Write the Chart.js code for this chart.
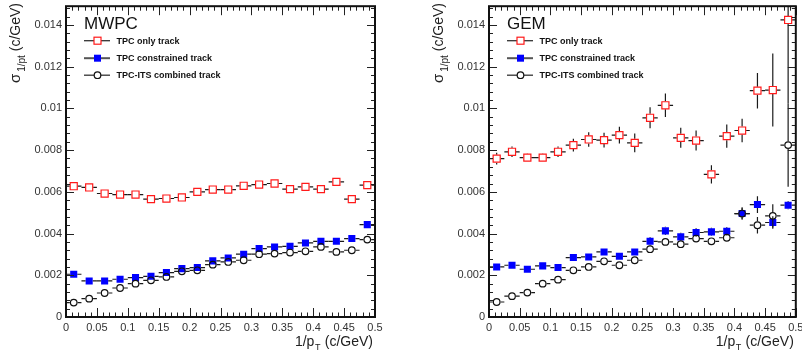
<!DOCTYPE html>
<html>
<head>
<meta charset="utf-8">
<script src="https://cdn.jsdelivr.net/npm/chart.js@4"></script>
<style>
  html, body { margin: 0; padding: 0; background: #fff; overflow: hidden; }
  #wrap { position: relative; width: 802px; height: 360px; }
  canvas { position: absolute; top: 0; display: block; }
</style>
</head>
<body>
<div id="wrap">
  <canvas id="mwpc" width="401" height="360" style="left:0"></canvas>
  <canvas id="gem" width="401" height="360" style="left:401px"></canvas>
</div>
<script>
// bins in 1/pT (c/GeV), 0.025 wide
const binCenters = [0.0125, 0.0375, 0.0625, 0.0875, 0.1125, 0.1375, 0.1625, 0.1875, 0.2125, 0.2375,
                    0.2625, 0.2875, 0.3125, 0.3375, 0.3625, 0.3875, 0.4125, 0.4375, 0.4625, 0.4875];
const binHalfWidth = 0.0125;

const xTickValues = [0, 0.05, 0.1, 0.15, 0.2, 0.25, 0.3, 0.35, 0.4, 0.45, 0.5];
const xTickLabels = ['0', '0.05', '0.1', '0.15', '0.2', '0.25', '0.3', '0.35', '0.4', '0.45', '0.5'];
const yTickValues = [0, 0.002, 0.004, 0.006, 0.008, 0.01, 0.012, 0.014];
const yTickLabels = ['0', '0.002', '0.004', '0.006', '0.008', '0.01', '0.012', '0.014'];

const seriesNames = ['TPC only track', 'TPC constrained track', 'TPC-ITS combined track'];

// MWPC panel
const mwpcTpcOnly = [0.00627, 0.00621, 0.00592, 0.00587, 0.00587, 0.00565, 0.00568, 0.00573, 0.0060, 0.00611,
                     0.00611, 0.00629, 0.00635, 0.0064, 0.00613, 0.00624, 0.00613, 0.00648, 0.00565, 0.00632];
const mwpcTpcOnlyErr = [0.0001, 0.0001, 0.0001, 0.0001, 0.0001, 0.0001, 0.0001, 0.0001, 0.0001, 0.0001,
                        0.0001, 0.0001, 0.0001, 0.0001, 0.0001, 0.0001, 0.0001, 0.0002, 0.00015, 0.0002];
const mwpcConstrained = [0.00205, 0.00173, 0.00173, 0.00181, 0.00189, 0.00195, 0.00213, 0.00232, 0.00237, 0.00269,
                         0.00283, 0.00301, 0.00328, 0.00336, 0.00339, 0.00355, 0.00363, 0.00363, 0.00376, 0.00443];
const mwpcConstrainedErr = [0.00008, 0.00008, 0.00008, 0.00008, 0.00008, 0.00008, 0.00008, 0.00008, 0.00008, 0.00008,
                            0.00008, 0.00008, 0.00008, 0.00008, 0.00008, 0.00008, 0.00008, 0.0001, 0.0001, 0.00012];
const mwpcCombined = [0.00069, 0.00088, 0.00115, 0.00139, 0.0016, 0.00176, 0.00192, 0.00219, 0.00224, 0.00251,
                      0.00264, 0.00272, 0.00301, 0.00304, 0.00309, 0.00315, 0.00336, 0.00312, 0.0032, 0.00371];
const mwpcCombinedErr = [0.00008, 0.00008, 0.00008, 0.00008, 0.00008, 0.00008, 0.00008, 0.00008, 0.00008, 0.00008,
                         0.00008, 0.00008, 0.00008, 0.00008, 0.00008, 0.00008, 0.0001, 0.0001, 0.0001, 0.00012];

// GEM panel
const gemTpcOnly = [0.00759, 0.00792, 0.00764, 0.00764, 0.00792, 0.00824, 0.00851, 0.00848, 0.00872, 0.00835,
                    0.00955, 0.01015, 0.00859, 0.00846, 0.00684, 0.00867, 0.00894, 0.01085, 0.01088, 0.01424];
const gemTpcOnlyErr = [0.00028, 0.00025, 0.0002, 0.0002, 0.00025, 0.0003, 0.00035, 0.00035, 0.0004, 0.00045,
                       0.0005, 0.00056, 0.00048, 0.00048, 0.00044, 0.00056, 0.00056, 0.00085, 0.00175, 0.004];
const gemConstrained = [0.0024, 0.00248, 0.00229, 0.00245, 0.00237, 0.00285, 0.00288, 0.00312, 0.00291, 0.00312,
                        0.00363, 0.00413, 0.00384, 0.00405, 0.00408, 0.00411, 0.00496, 0.00539, 0.00453, 0.00536];
const gemConstrainedErr = [0.00012, 0.00012, 0.00012, 0.00012, 0.00012, 0.00015, 0.00015, 0.00015, 0.00015, 0.00015,
                           0.0002, 0.0002, 0.0002, 0.0002, 0.0002, 0.0002, 0.00025, 0.0004, 0.0003, 0.0002];
const gemCombined = [0.00072, 0.001, 0.00117, 0.0016, 0.00179, 0.00224, 0.0024, 0.00267, 0.00248, 0.00272,
                     0.00325, 0.0036, 0.00349, 0.00376, 0.00363, 0.0038, 0.00496, 0.0044, 0.00485, 0.00824];
const gemCombinedErr = [0.0001, 0.0001, 0.0001, 0.0001, 0.0001, 0.00012, 0.00012, 0.00012, 0.00012, 0.00015,
                        0.00015, 0.00015, 0.00015, 0.00015, 0.00015, 0.00018, 0.0003, 0.0004, 0.00056, 0.002];

const FONT = '"Liberation Sans", Arial, Helvetica, sans-serif';
const RED = '#ff1a1a', BLUE = '#0000ff', BLACK = '#111';

// error bars drawn per dataset, right before its markers, with a gap at the marker (ROOT style)
const errorBars = {
  id: 'errorBars',
  beforeDatasetDraw(chart, args) {
    const { ctx, chartArea: a, scales: { x, y } } = chart;
    const ds = chart.data.datasets[args.index];
    const gap = ds.markerGap;
    ctx.save();
    ctx.beginPath();
    ctx.rect(a.left, a.top, a.width, a.height);
    ctx.clip();
    ctx.strokeStyle = '#1a1a1a';
    ctx.lineWidth = 1.2;
    ds.data.forEach((p, i) => {
      const px = x.getPixelForValue(p.x);
      const py = y.getPixelForValue(p.y);
      const lo = y.getPixelForValue(p.y - ds.yErr[i]);
      const hi = y.getPixelForValue(p.y + ds.yErr[i]);
      ctx.beginPath();
      ctx.moveTo(x.getPixelForValue(p.x - binHalfWidth), py);
      ctx.lineTo(px - gap, py);
      ctx.moveTo(px + gap, py);
      ctx.lineTo(x.getPixelForValue(p.x + binHalfWidth), py);
      if (lo > py + gap) { ctx.moveTo(px, py + gap); ctx.lineTo(px, lo); }
      if (hi < py - gap) { ctx.moveTo(px, py - gap); ctx.lineTo(px, hi); }
      ctx.stroke();
    });
    ctx.restore();
  }
};

// ROOT-like frame with inward ticks on all four sides
const frame = {
  id: 'frame',
  afterDatasetsDraw(chart) {
    const { ctx, chartArea: a, scales: { x, y } } = chart;
    ctx.save();
    ctx.strokeStyle = '#222';
    ctx.lineWidth = 1;
    ctx.beginPath();
    for (let k = 0; k <= 50; k++) {
      const px = Math.round(x.getPixelForValue(k * 0.01)) + 0.5;
      const len = k % 5 === 0 ? 9 : 4.5;
      ctx.moveTo(px, a.bottom); ctx.lineTo(px, a.bottom - len);
      ctx.moveTo(px, a.top); ctx.lineTo(px, a.top + len);
    }
    for (let k = 0; k <= 37; k++) {
      const v = k * 0.0004;
      if (v > y.max) break;
      const py = Math.round(y.getPixelForValue(v)) + 0.5;
      const len = k % 5 === 0 ? 8 : 4;
      ctx.moveTo(a.left, py); ctx.lineTo(a.left + len, py);
      ctx.moveTo(a.right, py); ctx.lineTo(a.right - len, py);
    }
    ctx.stroke();
    ctx.strokeStyle = '#111';
    ctx.lineWidth = 2;
    ctx.strokeRect(a.left, a.top, a.right - a.left, a.bottom - a.top);
    ctx.restore();
  }
};

function drawMarker(ctx, style, x, y) {
  ctx.lineWidth = 1.2;
  if (style === 'open-square') {
    ctx.fillStyle = '#fff'; ctx.strokeStyle = RED;
    ctx.fillRect(x - 3.5, y - 3.5, 7, 7); ctx.strokeRect(x - 3.5, y - 3.5, 7, 7);
  } else if (style === 'full-square') {
    ctx.fillStyle = BLUE; ctx.fillRect(x - 3.5, y - 3.5, 7, 7);
  } else {
    ctx.fillStyle = '#fff'; ctx.strokeStyle = BLACK;
    ctx.beginPath(); ctx.arc(x, y, 3.3, 0, Math.PI * 2); ctx.fill(); ctx.stroke();
  }
}

// legend, panel label and axis titles
const annotations = {
  id: 'annotations',
  afterDraw(chart, args, opts) {
    const { ctx, chartArea: a } = chart;
    ctx.save();
    ctx.fillStyle = '#111';
    ctx.textBaseline = 'alphabetic';
    ctx.textAlign = 'left';
    ctx.font = '17px ' + FONT;
    ctx.fillText(opts.label, a.left + 18, a.top + 23);

    const styles = ['open-square', 'full-square', 'open-circle'];
    const rows = [a.top + 34.5, a.top + 52, a.top + 69];
    seriesNames.forEach((name, i) => {
      ctx.strokeStyle = i === 1 ? '#555' : '#333';
      ctx.lineWidth = i === 1 ? 2 : 1.3;
      ctx.beginPath();
      ctx.moveTo(a.left + 18, rows[i]); ctx.lineTo(a.left + 44, rows[i]);
      ctx.stroke();
      drawMarker(ctx, styles[i], a.left + 31.5, rows[i]);
      ctx.fillStyle = '#111';
      ctx.font = 'bold 9px ' + FONT;
      ctx.textBaseline = 'middle';
      ctx.fillText(name, a.left + 50.5, rows[i] + 0.5);
    });

    // x title: 1/pT (c/GeV), right aligned
    ctx.textBaseline = 'alphabetic';
    ctx.fillStyle = '#222';
    ctx.font = '14px ' + FONT;
    const xa = '1/p', xc = ' (c/GeV)';
    const wA = ctx.measureText(xa).width, wC = ctx.measureText(xc).width;
    ctx.font = '9px ' + FONT;
    const wB = ctx.measureText('T').width + 1;
    let xs = a.right - 2 - (wA + wB + wC);
    const base = 346;
    ctx.font = '14px ' + FONT; ctx.fillText(xa, xs, base);
    ctx.font = '9px ' + FONT; ctx.fillText('T', xs + wA + 0.5, base + 4);
    ctx.font = '14px ' + FONT; ctx.fillText(xc, xs + wA + wB, base);

    // y title: sigma_1/pt (c/GeV), rotated, ending at the top
    ctx.translate(a.left - 46, 0);
    ctx.rotate(-Math.PI / 2);
    ctx.font = '15px ' + FONT;
    const wS = ctx.measureText('\u03c3').width;
    ctx.font = '10px ' + FONT;
    const wSub = ctx.measureText('1/pt').width;
    ctx.font = '14px ' + FONT;
    const wT = ctx.measureText(' (c/GeV)').width;
    let s = -(3 + wS + 2 + wSub + wT);
    ctx.font = '15px ' + FONT; ctx.fillText('\u03c3', s, 0);
    ctx.font = '10px ' + FONT; ctx.fillText('1/pt', s + wS + 2, 5);
    ctx.font = '14px ' + FONT; ctx.fillText(' (c/GeV)', s + wS + 2 + wSub, 0);
    ctx.restore();
  }
};

function points(values) {
  return binCenters.map((x, i) => ({ x: x, y: values[i] }));
}

function makePanel(id, label, only, onlyErr, cons, consErr, comb, combErr, yAxisWidth, rightPad) {
  return new Chart(document.getElementById(id), {
    type: 'scatter',
    data: {
      datasets: [
        {
          label: seriesNames[0],
          data: points(only), yErr: onlyErr, markerGap: 4, order: 3,
          pointStyle: 'rect', pointRadius: 5, pointBorderWidth: 1.2,
          pointBackgroundColor: 'rgba(255,255,255,0)', pointBorderColor: RED
        },
        {
          label: seriesNames[1],
          data: points(cons), yErr: consErr, markerGap: 3.5, order: 2,
          pointStyle: 'rect', pointRadius: 5, pointBorderWidth: 0,
          pointBackgroundColor: BLUE, pointBorderColor: BLUE
        },
        {
          label: seriesNames[2],
          data: points(comb), yErr: combErr, markerGap: 3.9, order: 1,
          pointStyle: 'circle', pointRadius: 3.3, pointBorderWidth: 1.2,
          pointBackgroundColor: 'rgba(255,255,255,0)', pointBorderColor: BLACK
        }
      ]
    },
    options: {
      responsive: false,
      animation: false,
      events: [],
      layout: { padding: { left: 0, right: rightPad, top: 4, bottom: 0 } },
      plugins: {
        legend: { display: false },
        tooltip: { enabled: false },
        annotations: { label: label }
      },
      scales: {
        x: {
          type: 'linear', min: 0, max: 0.5,
          grid: { display: false, drawTicks: false },
          border: { display: false },
          afterBuildTicks: s => { s.ticks = xTickValues.map(v => ({ value: v })); },
          afterFit: s => { s.height = 43; s.paddingLeft = 0; s.paddingRight = 0; },
          ticks: {
            autoSkip: false, maxRotation: 0, padding: 4, color: '#333',
            font: { family: FONT, size: 11 },
            callback: (v, i) => xTickLabels[i]
          }
        },
        y: {
          type: 'linear', min: 0, max: 0.0149,
          grid: { display: false, drawTicks: false },
          border: { display: false },
          afterBuildTicks: s => { s.ticks = yTickValues.map(v => ({ value: v })); },
          afterFit: s => { s.width = yAxisWidth; s.paddingTop = 0; s.paddingBottom = 0; },
          ticks: {
            padding: 4, color: '#333',
            font: { family: FONT, size: 11 },
            callback: (v, i) => yTickLabels[i]
          }
        }
      }
    },
    plugins: [errorBars, frame, annotations]
  });
}

makePanel('mwpc', 'MWPC', mwpcTpcOnly, mwpcTpcOnlyErr, mwpcConstrained, mwpcConstrainedErr,
          mwpcCombined, mwpcCombinedErr, 66, 26);
makePanel('gem', 'GEM', gemTpcOnly, gemTpcOnlyErr, gemConstrained, gemConstrainedErr,
          gemCombined, gemCombinedErr, 88, 4);
</script>
</body>
</html>
